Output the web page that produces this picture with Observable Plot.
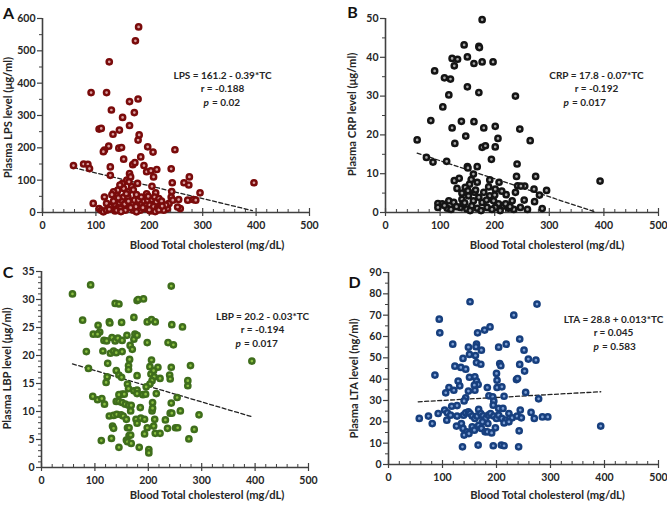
<!DOCTYPE html>
<html><head><meta charset="utf-8">
<script src="https://cdn.jsdelivr.net/npm/d3@7"></script>
<script src="https://cdn.jsdelivr.net/npm/@observablehq/plot@0.6"></script>
<style>
body{margin:0;background:#fff}
#wrap{position:relative;width:667px;height:506px;overflow:hidden}
#wrap svg{position:absolute;overflow:visible}
</style>
</head><body><div id="wrap"></div>
<script>
// ---------- data ----------
const xTicks = [0, 100, 200, 300, 400, 500];
const xMinorTicks = d3.range(0, 501, 20).filter(v => v % 100 !== 0);

// Panel A: TC vs LPS
const lpsPoints = [[58,145],[77,150],[85,149],[88,136],[91,371],[120,371],[125,466],[106,258],[110,260],[129,317],[132,242],[124,205],[116,193],[114,188],[127,141],[127,115],[144,255],[150,294],[143,199],[148,201],[152,165],[163,343],[163,269],[172,309],[174,531],[180,574],[179,351],[179,224],[181,240],[184,172],[169,148],[173,154],[190,145],[197,203],[207,187],[195,126],[203,129],[208,110],[214,133],[212,61],[205,81],[248,194],[241,135],[243,92],[242,65],[265,92],[274,85],[275,110],[295,61],[396,92],[282,40],[272,38],[287,38],[255,40],[258,12],[253,17],[237,28],[234,12],[241,48],[244,38],
[95,28],[106,12],[110,7],[114,2],[116,48],[120,28],[120,7],[128,18],[135,26],[136,5],[139,59],[139,7],[141,69],[144,30],[146,12],[148,38],[150,90],[152,74],[152,48],[154,26],[155,7],[158,100],[160,48],[160,64],[163,120],[165,110],[167,80],[168,26],[170,7],[172,38],[175,18],[178,90],[180,38],[183,7],[186,26],[190,36],[193,12],[197,38],[201,23],[202,5],[205,40],[208,18],[210,48],[213,33],[215,12],[218,43],[223,35],[227,7],[231,23],
[133,64],[130,55],[145,85],[157,58],[162,95],[170,70],[176,55],[185,48],[195,58],[165,15],[188,15],[200,8],[211,3],[147,3],[125,10],[133,35],[218,8],[224,20],[142,45],[176,2],[161,35],[198,50]];
const lpsTrend = [[58,139],[393,6]];

// Panel B: TC vs CRP
const crpPoints = [[177,49.7],[144,43.2],[171,42.8],[172,42.5],[122,39.7],[132,39.5],[126,37.8],[150,40.1],[162,38.4],[177,38.8],[197,38.8],[90,36.5],[108,34.7],[119,34.4],[116,30.3],[150,32.4],[171,30.9],[238,30.0],[105,27.2],[83,23.7],[139,23.5],[162,23.4],[122,21.8],[180,21.8],[201,22.2],[246,21.5],[147,19.7],[206,19.1],[265,18.5],[127,17.8],[177,16.8],[183,17.2],[201,16.9],[194,13.7],[58,18.7],[75,14.2],[87,13.0],[112,13.2],[150,11.8],[151,11.5],[168,11.8],[241,12.5],[240,9.3],[242,6.9],[126,8.2],[135,8.8],[131,6.2],[161,9.9],[168,7.8],[154,7.3],[146,6.5],[191,8.4],[208,7.8],[201,6.0],[191,4.3],[221,4.6],[96,2.3],[104,2.2],[116,3.0],[125,2.6],[140,3.4],[152,4.3],[161,3.0],[171,3.9],[177,2.6],[198,3.0],[207,2.2],[216,1.7],[232,3.0],[238,5.2],[254,3.2],[96,1.3],[113,1.1],[137,1.3],[149,0.9],[158,1.7],[168,1.1],[186,1.3],[201,1.3],[225,1.1],[247,1.3],[142,2.2],[151,5.6],[163,5.2],[180,5.2],[189,6.6],
[275,9.3],[272,6.0],[282,4.5],[295,5.7],[287,1.0],[255,6.8],[260,0.8],[273,2.8],[393,8.1],[248,6.8],
[130,1.5],[145,2.5],[155,0.5],[175,0.5],[195,0.8],[210,0.5],[220,2.2],[235,0.8],[165,5.8],[185,3.2],[140,5.0],[157,8.5],[200,4.5],[213,5.5],[228,1.5],[120,0.8],[108,1.8]];
const crpTrend = [[58,15.3],[385,0.1]];

// Panel C: TC vs LBP
const lbpPoints = [[58,31.0],[92,32.6],[243,32.4],[77,26.3],[138,29.3],[145,29.2],[179,29.8],[181,30.0],[191,30.1],[173,26.8],[106,25.4],[109,24.2],[127,26.0],[128,25.8],[150,25.9],[198,26.0],[206,26.4],[213,26.0],[244,25.5],[264,25.1],[97,23.8],[105,23.8],[117,22.7],[122,22.6],[132,23.2],[138,22.6],[143,23.1],[151,22.7],[160,23.6],[173,22.9],[175,23.8],[179,23.6],[198,22.3],[237,22.3],[247,21.9],[84,20.7],[115,20.8],[129,20.4],[135,20.8],[140,20.5],[151,20.7],[166,21.8],[170,21.1],[165,19.3],[206,19.2],[394,19.0],[88,17.7],[124,18.6],[163,18.2],[163,17.5],[179,16.4],[203,18.0],[218,17.9],[243,17.9],[279,18.2],[140,17.3],[145,16.5],[150,16.1],[123,16.2],[121,15.2],[205,16.7],[210,17.3],[211,16.2],[240,16.5],[241,15.8],[222,15.9],[207,15.5],[203,14.9],[196,14.4],[161,14.9],[163,14.1],[173,13.7],[179,13.8],[179,13.2],[151,13.1],[145,13.0],[155,13.1],[190,13.0],[195,13.1],[215,13.2],[254,12.5],[274,14.6],[274,15.5],[96,12.7],[105,12.1],[113,12.3],[118,11.3],[140,11.8],[145,11.8],[151,11.6],[157,11.3],[163,11.1],[168,11.1],[167,10.1],[208,11.6],[243,11.5],[207,10.1],[208,10.6],[185,10.7],[241,9.7],[244,9.7],[260,10.1],[295,9.4],[127,9.2],[135,9.3],[141,9.5],[149,9.4],[153,9.2],[159,8.6],[177,8.6],[186,8.8],[193,8.6],[212,8.6],[232,8.5],[179,7.9],[198,7.1],[210,7.4],[251,7.1],[255,7.1],[236,7.0],[286,6.8],[133,7.4],[135,7.0],[161,7.1],[164,7.1],[193,6.0],[213,6.1],[222,6.1],[164,5.7],[167,5.8],[159,4.9],[161,4.6],[168,4.3],[131,5.2],[112,4.8],[276,5.1],[145,3.6],[183,3.6],[201,3.2],[201,2.6]];
const lbpTrend = [[58,18.5],[393,9.1]];

// Panel D: TC vs LTA
const ltaPoints = [[151,76.3],[275,75.2],[232,70.0],[94,68.1],[95,61.7],[165,61.7],[178,63.0],[188,64.5],[119,56.4],[218,56.4],[243,58.8],[163,56.4],[162,55.2],[148,55.0],[204,55.0],[251,53.6],[172,53.6],[150,51.6],[161,51.1],[138,49.7],[259,49.4],[273,48.9],[163,47.8],[171,47.0],[206,47.3],[208,46.3],[243,46.9],[123,46.1],[134,45.5],[143,44.7],[252,43.8],[200,42.7],[86,41.9],[150,40.9],[160,41.1],[237,39.8],[239,40.3],[129,39.1],[163,39.1],[201,39.5],[166,37.5],[159,37.2],[132,36.9],[112,36.1],[183,36.1],[201,36.1],[210,36.4],[160,34.8],[148,34.4],[121,34.8],[106,33.6],[254,33.8],[143,31.3],[186,32.2],[193,31.7],[214,32.0],[278,30.8],[140,29.8],[195,29.7],[194,27.8],[117,27.3],[127,27.6],[167,25.8],[104,25.5],[244,25.5],[264,24.4],[204,26.3],[212,26.3],[57,21.6],[74,22.7],[92,23.9],[81,19.2],[109,24.2],[108,20.8],[115,23.1],[127,22.7],[139,23.1],[143,24.2],[148,24.7],[151,23.9],[155,22.7],[160,21.6],[164,22.7],[171,23.9],[175,22.8],[180,21.6],[185,23.1],[189,23.9],[195,22.7],[200,21.6],[204,23.1],[210,21.6],[217,20.8],[223,23.9],[229,21.9],[238,22.7],[246,21.9],[270,21.6],[285,22.3],[295,22.3],[393,18.0],[126,18.0],[135,19.2],[138,16.9],[145,15.3],[140,13.8],[149,14.5],[155,17.7],[159,16.1],[167,18.4],[172,16.9],[179,15.3],[183,15.3],[191,14.8],[198,17.2],[184,19.2],[174,20.0],[214,19.5],[223,20.0],[242,15.8],[137,8.3],[166,9.1],[194,8.8],[209,9.1],[214,8.8],[241,8.3]];
const ltaTrend = [[55,29.4],[393,34.1]];

// ---------- drawing ----------
const FONT = "Lato, 'Open Sans', 'DejaVu Sans', sans-serif";
const AXIS = "#404040";

function panel(c) {
  const fw = c.width - c.ml - c.mr, fh = c.height - c.mt - c.mb;
  const pts = c.points.map(([x, y]) => ({x, y}));
  const trend = c.trend.map(([x, y]) => ({x, y}));
  const tx = {fontFamily: FONT, fontWeight: "bold", fontSize: 10, fill: "#262626"};
  const svg = Plot.plot({
    width: c.width, height: c.height,
    marginLeft: c.ml, marginRight: c.mr, marginTop: c.mt, marginBottom: c.mb,
    x: {domain: [0, 500], label: null},
    y: {domain: c.yDomain, label: null},
    style: {fontFamily: FONT, fontSize: "10px", fontWeight: "bold", color: "#262626", background: "transparent", overflow: "visible"},
    marks: [
      Plot.ruleX(xMinorTicks, {insetTop: fh - 3, stroke: AXIS, strokeWidth: 1}),
      Plot.ruleX(xTicks, {insetTop: fh - 4, insetBottom: -4, stroke: AXIS, strokeWidth: 1.2}),
      Plot.ruleY(c.yMinor, {insetLeft: -3, insetRight: fw, stroke: AXIS, strokeWidth: 1}),
      Plot.ruleY(c.yTicks, {insetLeft: -5, insetRight: fw, stroke: AXIS, strokeWidth: 1.2}),
      Plot.ruleY([c.yDomain[0]], {stroke: AXIS, strokeWidth: 1.6}),
      Plot.ruleX([0], {stroke: AXIS, strokeWidth: 1.6}),
      Plot.axisX({ticks: xTicks, tickSize: 0, tickPadding: 9, label: null, ...tx, fontSize: 10.5}),
      Plot.axisY({ticks: c.yTicks, tickSize: 0, tickPadding: 7, label: null, ...tx, fontSize: 10.5}),
      Plot.line(trend, {x: "x", y: "y", stroke: "#222", strokeWidth: 1.3, strokeDasharray: "4,2.5"}),
      Plot.dot(pts, {x: "x", y: "y", r: 2.6, fill: c.inner, stroke: c.color, strokeWidth: 2.5}),
      Plot.text([c.eq], {frameAnchor: "top-right", dx: c.tdx, dy: c.tdy, textAnchor: "middle", ...tx}),
      Plot.text([c.r], {frameAnchor: "top-right", dx: c.tdx, dy: c.tdy + 13.5, textAnchor: "middle", ...tx}),
      Plot.text(["p"], {frameAnchor: "top-right", dx: c.tdx + c.pOff, dy: c.tdy + 27, textAnchor: "start", ...tx, fontStyle: "italic"}),
      Plot.text([c.p], {frameAnchor: "top-right", dx: c.tdx + c.pOff + 8.5, dy: c.tdy + 27, textAnchor: "start", ...tx}),
      Plot.text(["Blood Total cholesterol (mg/dL)"], {frameAnchor: "bottom", dx: c.xtdx, dy: c.xtdy, textAnchor: "middle", ...tx, fontSize: 11.2}),
      Plot.text([c.yLabel], {frameAnchor: "left", rotate: -90, dx: c.ytdx, dy: c.ytdy, textAnchor: "middle", ...tx, fontSize: 11.2}),
      Plot.text([c.letter], {frameAnchor: "top-left", dx: c.ldx, dy: c.ldy, textAnchor: "middle", ...tx, fontSize: 16, fill: "#111"})
    ]
  });
  svg.style.left = c.left + "px";
  svg.style.top = c.top + "px";
  document.getElementById("wrap").appendChild(svg);
}

panel({left: 0, top: 0, width: 333, height: 253, ml: 42, mr: 24, mt: 18, mb: 41,
  yDomain: [0, 600], yTicks: d3.range(0, 601, 100), yMinor: d3.range(50, 600, 100),
  points: lpsPoints, trend: lpsTrend, color: "#7a0b0b", inner: "#d9a0a0",
  eq: "LPS = 161.2 - 0.39*TC", r: "r = -0.188", p: "= 0.02", tdx: -87, tdy: 53, pOff: -19,
  yLabel: "Plasma LPS level (μg/ml)", xtdx: 31, xtdy: 36, ytdx: -34, ytdy: 2, letter: "A", ldx: -34, ldy: -11});

panel({left: 333, top: 0, width: 334, height: 253, ml: 52, mr: 9, mt: 18, mb: 41,
  yDomain: [0, 50], yTicks: d3.range(0, 51, 10), yMinor: d3.range(5, 50, 10),
  points: crpPoints, trend: crpTrend, color: "#141414", inner: "#a8a8a8",
  eq: "CRP = 17.8 - 0.07*TC", r: "r = -0.192", p: "= 0.017", tdx: -62, tdy: 53, pOff: -33,
  yLabel: "Plasma CRP level (μg/ml)", xtdx: 25, xtdy: 36, ytdx: -33.5, ytdy: -1, letter: "B", ldx: -33, ldy: -12});

panel({left: 0, top: 253, width: 333, height: 253, ml: 41, mr: 25, mt: 18, mb: 39,
  yDomain: [0, 35], yTicks: d3.range(0, 36, 5), yMinor: d3.range(1, 35, 1).filter(v => v % 5 !== 0),
  points: lbpPoints, trend: lbpTrend, color: "#3f6e1c", inner: "#8cc043",
  eq: "LBP = 20.2 - 0.03*TC", r: "r = -0.194", p: "= 0.017", tdx: -46, tdy: 41, pOff: -27,
  yLabel: "Plasma LBP level (μg/ml)", xtdx: 32, xtdy: 31, ytdx: -34.5, ytdy: -1, letter: "C", ldx: -33.5, ldy: -5});

panel({left: 333, top: 253, width: 334, height: 253, ml: 55, mr: 9, mt: 19, mb: 42,
  yDomain: [0, 90], yTicks: d3.range(0, 91, 10), yMinor: d3.range(5, 90, 10),
  points: ltaPoints, trend: ltaTrend, color: "#173f7e", inner: "#7d9fd3",
  eq: "LTA = 28.8 + 0.013*TC", r: "r = 0.045", p: "= 0.583", tdx: -45, tdy: 43, pOff: -20,
  yLabel: "Plasma LTA level (ng/ml)", xtdx: 24, xtdy: 34, ytdx: -34.5, ytdy: 10, letter: "D", ldx: -34, ldy: 4});
</script>
</body></html>
